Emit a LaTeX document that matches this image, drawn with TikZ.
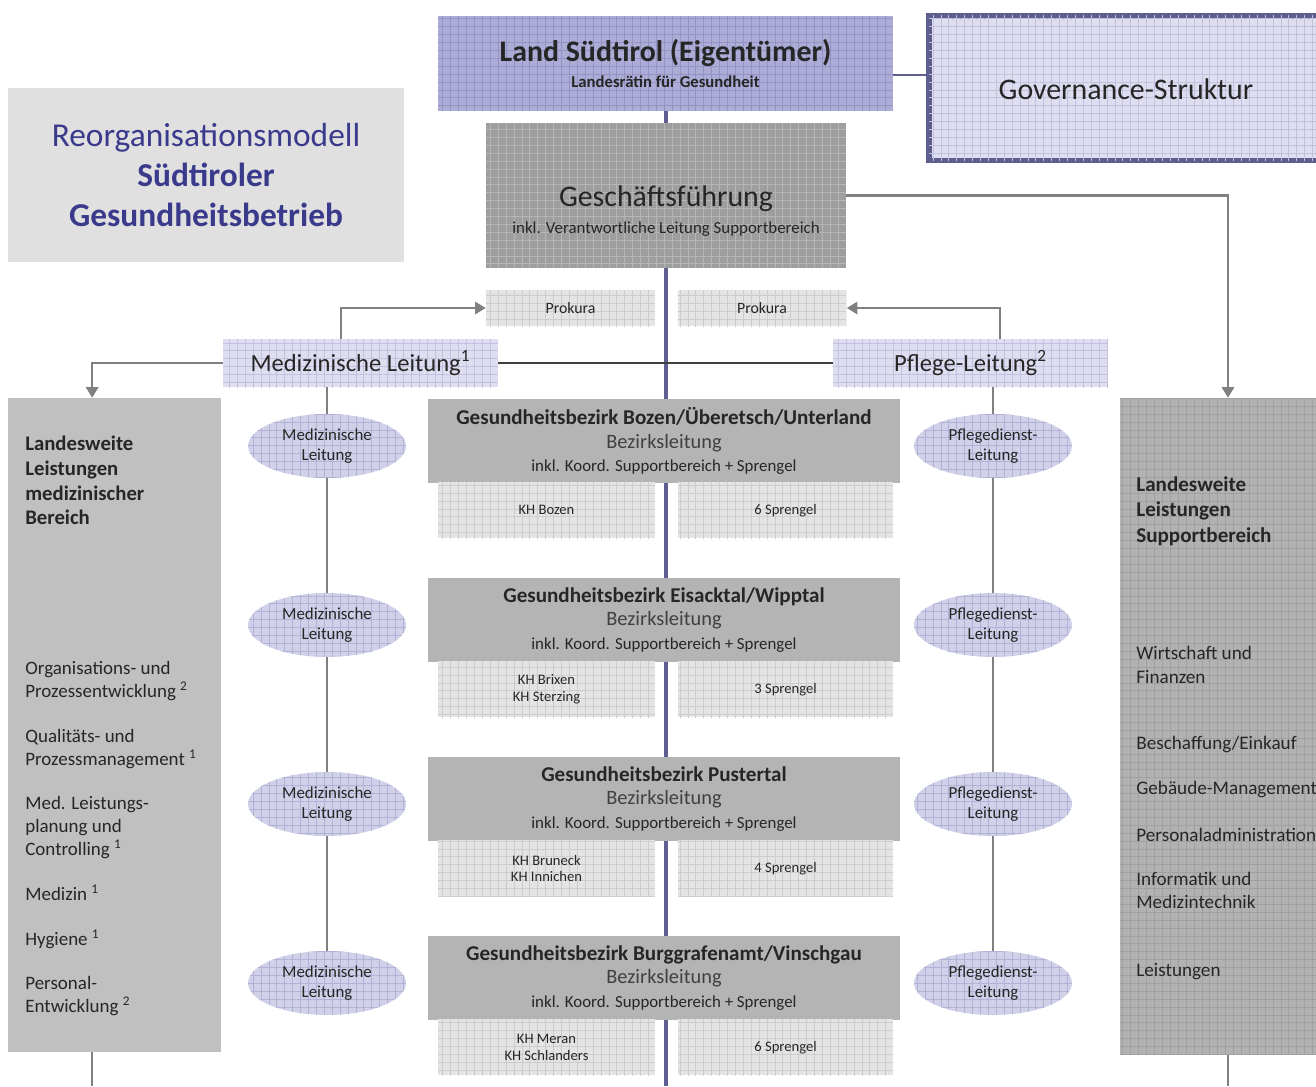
\documentclass[tikz,border=0pt]{standalone}
\usepackage{fontspec}
\setmainfont{Carlito}
\usetikzlibrary{positioning,patterns.meta,arrows.meta,shapes.geometric,backgrounds}

\definecolor{navy}{HTML}{3A3A8C}
\definecolor{frame}{HTML}{5E5E90}
\definecolor{lilac}{HTML}{ACACD6}
\definecolor{lilacline}{HTML}{9494C4}
\definecolor{palelilac}{HTML}{DEDEF0}
\definecolor{palelilacline}{HTML}{C2C2E0}
\definecolor{ellfill}{HTML}{D0D0E8}
\definecolor{ellline}{HTML}{B2B2D6}
\definecolor{titlegray}{HTML}{E0E0E0}
\definecolor{gfgray}{HTML}{9E9E9E}
\definecolor{gfline}{HTML}{B6B6B6}
\definecolor{pkgray}{HTML}{E4E4E4}
\definecolor{pkline}{HTML}{CCCCCC}
\definecolor{bezgray}{HTML}{B4B4B4}
\definecolor{lcolgray}{HTML}{C0C0C0}
\definecolor{rcolgray}{HTML}{B2B2B2}
\definecolor{rcolline}{HTML}{A0A0A0}
\definecolor{arrgray}{HTML}{808080}
\definecolor{subtext}{HTML}{404040}

\begin{document}
\begin{tikzpicture}[x=0.02cm,y=-0.02cm,
  every node/.style={inner sep=0pt, text=black!85},
  hatched/.style={postaction={pattern={Hatch[distance=4.5pt,angle=0,line width=.3pt]},pattern color=#1}},
  titlebox/.style={fill=titlegray, minimum width=7.92cm, minimum height=3.48cm, align=center, text=navy, font=\fontsize{19}{23}\selectfont},
  landbox/.style={fill=lilac, hatched=lilacline, minimum width=9.1cm, minimum height=1.9cm, align=center, font=\fontsize{9.5}{14.5}\selectfont},
  govbox/.style={draw=frame, line width=3.4pt, fill=palelilac, hatched=palelilacline, minimum width=8.08cm, minimum height=2.9cm},
  gfbox/.style={fill=gfgray, hatched=gfline, minimum width=7.2cm, minimum height=2.9cm},
  pkbox/.style={fill=pkgray, hatched=pkline, minimum width=3.38cm, minimum height=.72cm, font=\fontsize{9}{10}\selectfont},
  leadbox/.style={fill=palelilac, hatched=palelilacline, minimum width=5.5cm, minimum height=.96cm, font=\fontsize{14}{16}\selectfont},
  bezbox/.style={fill=bezgray, minimum width=9.44cm, minimum height=1.68cm, align=center, font=\fontsize{9.6}{13.5}\selectfont},
  subbox/.style={fill=pkgray, hatched=pkline, minimum width=4.34cm, minimum height=1.12cm, align=center, anchor=north, font=\fontsize{8.3}{9.5}\selectfont},
  leit/.style={ellipse, fill=ellfill, hatched=ellline, minimum width=3.16cm, minimum height=1.28cm, align=center, font=\fontsize{9.6}{11.5}\selectfont},
  arr/.style={draw=arrgray, line width=1.2pt, -{Triangle[width=7pt,length=6pt]}},
  vline/.style={draw=arrgray, line width=.7pt}]
\useasboundingbox (0,0) rectangle (1316,1086);

% title
\node[titlebox] (title) at (206,175) {Reorganisationsmodell\\\textbf{Südtiroler}\\\textbf{Gesundheitsbetrieb}};

% top of the tree
\node[landbox] (land) at (665.5,63.5) {{\fontsize{17}{17}\selectfont\bfseries Land Südtirol (Eigentümer)}\\{\bfseries Landesrätin für Gesundheit}};
\node[govbox] (gov) at (1131,88) {};
\node[font=\fontsize{17}{18}\selectfont] (govtext) at (1126,89) {Governance-Struktur};
\node[gfbox] (gf) at (666,195.5) {};
\node[align=center, font=\fontsize{9.6}{15}\selectfont] (gftext) at (666,211) {{\fontsize{17}{17}\selectfont Geschäftsführung}\\inkl. Verantwortliche Leitung Supportbereich};

\node[pkbox] (pk1) at (570.5,308) {Prokura};
\node[pkbox] (pk2) at (762,308) {Prokura};
\node[leadbox] (medl) at (360.5,363) {Medizinische Leitung\textsuperscript{1}};
\node[leadbox] (pfl) at (970.5,363) {Pflege-Leitung\textsuperscript{2}};

% left column
\node[fill=lcolgray, minimum width=4.26cm, minimum height=13.08cm] (lcol) at (114.5,725) {};
\node[anchor=north west, align=left, font=\fontsize{11.8}{14}\selectfont\bfseries] (lhead) at (25,436) {Landesweite\\Leistungen\\medizinischer\\Bereich};
\node[anchor=north west, align=left, font=\fontsize{10.8}{13}\selectfont] (litems) at (25,661) {Organisations- und\\Prozessentwicklung \textsuperscript{2}\\[12.5pt]Qualitäts- und\\Prozessmanagement \textsuperscript{1}\\[12.5pt]Med. Leistungs-\\planung und\\Controlling \textsuperscript{1}\\[12.5pt]Medizin \textsuperscript{1}\\[12.5pt]Hygiene \textsuperscript{1}\\[12.5pt]Personal-\\Entwicklung \textsuperscript{2}};

% right column
\node[fill=rcolgray, hatched=rcolline, minimum width=4.2cm, minimum height=13.14cm] (rcol) at (1225,726.5) {};
\node[anchor=north west, align=left, font=\fontsize{12}{14.5}\selectfont\bfseries] (rhead) at (1136,476) {Landesweite\\Leistungen\\Supportbereich};
\node[anchor=north west, align=left, font=\fontsize{10.9}{13.3}\selectfont] (ritems) at (1136,646) {Wirtschaft und\\Finanzen\\[24.7pt]Beschaffung/Einkauf\\[12.2pt]Gebäude-Management\\[13.3pt]Personaladministration\\[11.6pt]Informatik und\\Medizintechnik\\[25.2pt]Leistungen};

% districts
\node[bezbox] (bez1) at (664,441) {{\fontsize{12}{13}\selectfont\bfseries Gesundheitsbezirk Bozen/Überetsch/Unterland}\\{\fontsize{11.6}{13}\selectfont\color{subtext}Bezirksleitung}\\inkl. Koord. Supportbereich + Sprengel};
\node[subbox] (kh1) at (546.5,482) {KH Bozen};
\node[subbox, minimum width=4.3cm] (sp1) at (785.5,482) {6 Sprengel};

\node[bezbox] (bez2) at (664,620) {{\fontsize{12}{13}\selectfont\bfseries Gesundheitsbezirk Eisacktal/Wipptal}\\{\fontsize{11.6}{13}\selectfont\color{subtext}Bezirksleitung}\\inkl. Koord. Supportbereich + Sprengel};
\node[subbox] (kh2) at (546.5,661) {KH Brixen\\KH Sterzing};
\node[subbox, minimum width=4.3cm] (sp2) at (785.5,661) {3 Sprengel};

\node[bezbox] (bez3) at (664,799) {{\fontsize{12}{13}\selectfont\bfseries Gesundheitsbezirk Pustertal}\\{\fontsize{11.6}{13}\selectfont\color{subtext}Bezirksleitung}\\inkl. Koord. Supportbereich + Sprengel};
\node[subbox] (kh3) at (546.5,840) {KH Bruneck\\KH Innichen};
\node[subbox, minimum width=4.3cm] (sp3) at (785.5,840) {4 Sprengel};

\node[bezbox] (bez4) at (664,978) {{\fontsize{12}{13}\selectfont\bfseries Gesundheitsbezirk Burggrafenamt/Vinschgau}\\{\fontsize{11.6}{13}\selectfont\color{subtext}Bezirksleitung}\\inkl. Koord. Supportbereich + Sprengel};
\node[subbox] (kh4) at (546.5,1019) {KH Meran\\KH Schlanders};
\node[subbox, minimum width=4.3cm] (sp4) at (785.5,1019) {6 Sprengel};

% Leitungen per district
\node[leit] (me1) at (327,446) {Medizinische\\Leitung};
\node[leit] (me2) at (327,625) {Medizinische\\Leitung};
\node[leit] (me3) at (327,804) {Medizinische\\Leitung};
\node[leit] (me4) at (327,983) {Medizinische\\Leitung};
\node[leit] (pe1) at (993,446) {Pflegedienst-\\Leitung};
\node[leit] (pe2) at (993,625) {Pflegedienst-\\Leitung};
\node[leit] (pe3) at (993,804) {Pflegedienst-\\Leitung};
\node[leit] (pe4) at (993,983) {Pflegedienst-\\Leitung};

\coordinate (axis) at (666,1086);
\coordinate (lend) at (92,1086);
\coordinate (rend) at (1228,1086);

\begin{pgfonlayer}{background}
\draw[frame, line width=2.8pt] (land.south -| axis) -- (axis);
\draw[black!75, line width=.9pt] (medl.east) -- (pfl.west);
\end{pgfonlayer}

\draw[frame, line width=1pt] ([yshift=-6.5pt]land.east) -- ([yshift=-6.5pt]land.east -| gov.west);
\draw[arr] (gf.east) -| ([xshift=1.7pt]rcol.north);
\draw[arr] (medl.west) -| ([xshift=-12.7pt]lcol.north);
\draw[arr] ([xshift=-11pt]medl.north) |- (pk1.west);
\draw[arr] ([xshift=16.7pt]pfl.north) |- (pk2.east);
\draw[vline] ([xshift=16.7pt]pfl.north) -- ++(0,-32);
\draw[vline] (medl.south -| me1) -- (me1);
\draw[vline] (me1) -- (me2);
\draw[vline] (me2) -- (me3);
\draw[vline] (me3) -- (me4);
\draw[vline] (pfl.south -| pe1) -- (pe1);
\draw[vline] (pe1) -- (pe2);
\draw[vline] (pe2) -- (pe3);
\draw[vline] (pe3) -- (pe4);
\draw[vline] (lcol.south -| lend) -- (lend);
\draw[vline] (rcol.south -| rend) -- (rend);
\end{tikzpicture}
\end{document}
